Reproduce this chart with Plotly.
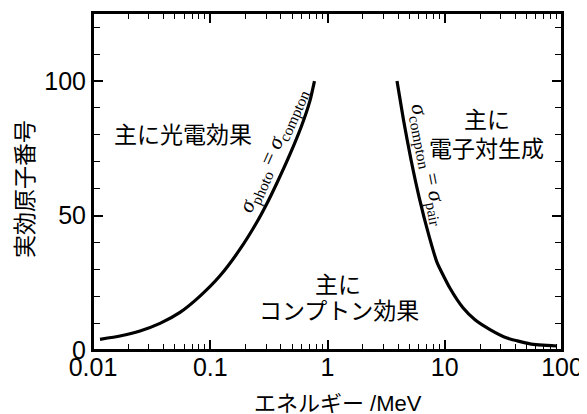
import plotly.graph_objects as go

# photo = compton boundary (energy in MeV, effective Z)
photo_E = [0.01148, 0.01699, 0.02517, 0.03727, 0.05521, 0.08176, 0.1211, 0.1794,
           0.2489, 0.3030, 0.3687, 0.4788, 0.6026, 0.7089, 0.7744]
photo_Z = [3.98, 5.20, 7.06, 9.89, 13.98, 20.04, 27.58, 37.47,
           47.40, 54.28, 61.90, 72.79, 83.46, 92.71, 100]
# compton = pair boundary
pair_E = [3.915, 4.448, 5.155, 6.090, 7.339, 8.589, 11.09, 14.31, 18.11, 24.32,
          33.96, 53.35, 90.66]
pair_Z = [100, 85.5, 70.72, 56.19, 42.42, 32.60, 22.94, 15.69, 11.23, 7.60,
          4.44, 2.30, 1.49]

x_tickvals = [0.01, 0.1, 1, 10, 100]
x_ticktext = ["0.01", "0.1", "1", "10", "100"]
y_tickvals = [0, 50, 100]
x_range = [-2, 2]
y_range = [0, 125.3]

SANS = "'Liberation Sans', Arial, 'Noto Sans CJK JP'"
CJK = "'Noto Sans CJK JP', 'Liberation Sans'"
MIXED = "'Liberation Sans', 'Noto Sans CJK JP'"
SERIF = "'Liberation Serif', 'Times New Roman', serif"

fig = go.Figure()
for xs, ys in [(photo_E, photo_Z), (pair_E, pair_Z)]:
    fig.add_trace(go.Scatter(x=xs, y=ys, mode="lines",
                             line=dict(color="black", width=3.2, shape="spline", smoothing=0.5),
                             showlegend=False, hoverinfo="skip"))

ann = [
    ("主に光電効果", -1.232, 80.7),
    ("主に", 1.360, 86.2),
    ("電子対生成", 1.360, 75.5),
    ("主に", 0.0896, 24.9),
    ("コンプトン効果", 0.102, 15.2),
]
for t, x, y in ann:
    fig.add_annotation(x=x, y=y, text=t, showarrow=False,
                       font=dict(family=CJK, size=23, color="black"))

fig.add_annotation(x=-0.462, y=74.3, showarrow=False, textangle=-66,
                   text="<i>σ</i><sub>photo</sub> = <i>σ</i><sub>compton</sub>",
                   font=dict(family=SERIF, size=22, color="black"))
fig.add_annotation(x=0.860, y=69.0, showarrow=False, textangle=79,
                   text="<i>σ</i><sub>compton</sub> = <i>σ</i><sub>pair</sub>",
                   font=dict(family=SERIF, size=22, color="black"))

# axis titles
fig.add_annotation(xref="paper", yref="paper", x=0.522, y=-0.160, showarrow=False,
                   xanchor="center", yanchor="middle",
                   text="エネルギー /MeV", font=dict(family=MIXED, size=22, color="black"))
fig.add_annotation(xref="paper", yref="paper", x=-0.149, y=0.478, showarrow=False,
                   xanchor="center", yanchor="middle",
                   textangle=-90, text="実効原子番号",
                   font=dict(family=CJK, size=23, color="black"))

# plot frame
fig.add_shape(type="rect", xref="paper", yref="paper", x0=0, y0=0, x1=1, y1=1,
              line=dict(color="black", width=2), layer="above")

common = dict(ticks="inside", ticklen=10, tickwidth=1.5, tickcolor="black",
              showline=True, linecolor="black", linewidth=2, mirror="allticks",
              showgrid=False, zeroline=False, automargin=False)

fig.update_layout(
    xaxis=dict(type="log", range=x_range, tickvals=x_tickvals, ticktext=x_ticktext,
               minor=dict(ticks="inside", ticklen=6, tickwidth=1.2, tickcolor="black",
                          dtick="D1", showgrid=False),
               ticklabelstandoff=-6,
               tickfont=dict(family=SANS, size=25, color="black"), **common),
    yaxis=dict(range=y_range, tickvals=y_tickvals,
               minor=dict(ticks="inside", ticklen=7, tickwidth=1.2, tickcolor="black",
                          dtick=10, showgrid=False),
               tickfont=dict(family=SANS, size=25, color="black"), **common),
    width=587, height=414, margin=dict(l=85, r=33, t=5, b=72),
    plot_bgcolor="white", paper_bgcolor="white",
)
fig.write_html("out.html")
